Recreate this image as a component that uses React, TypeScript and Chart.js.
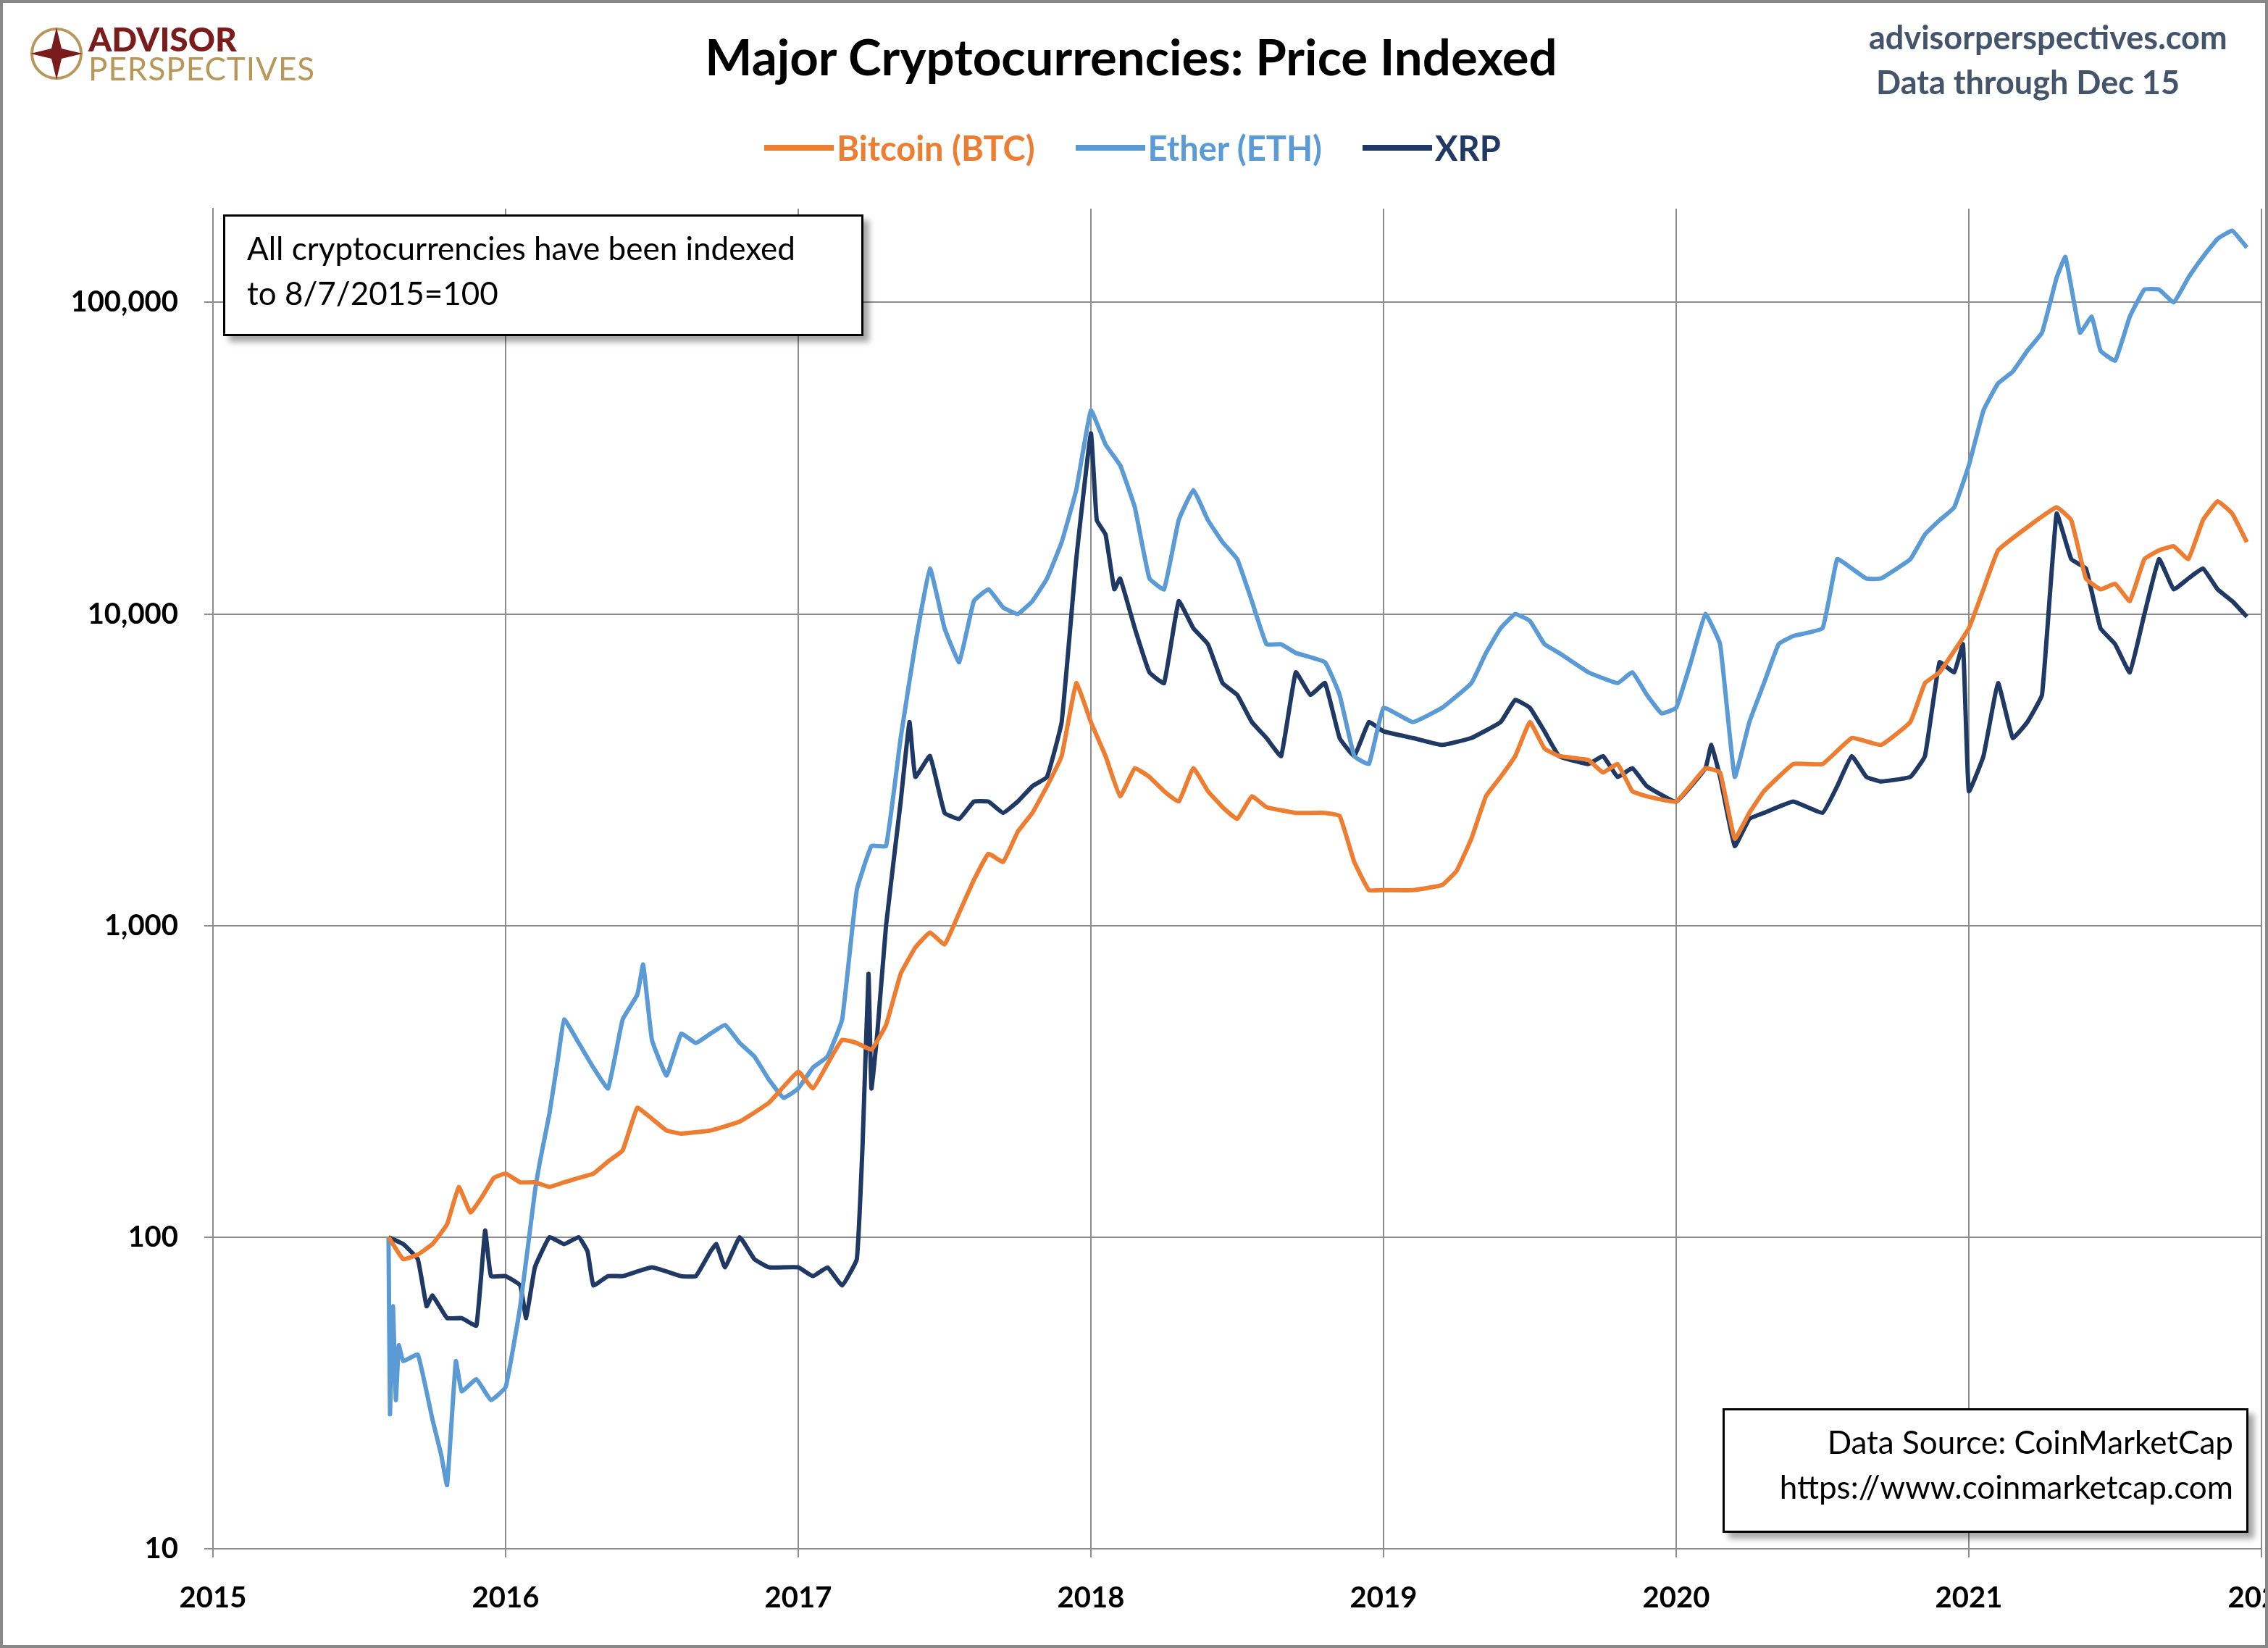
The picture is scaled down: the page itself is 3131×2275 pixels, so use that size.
import React, { useEffect, useRef } from "react";
import { Chart, registerables } from "chart.js";
Chart.register(...registerables);

const btcX = [2015.6,2015.65,2015.7,2015.75,2015.8,2015.84,2015.88,2015.92,2015.96,2016.0,2016.05,2016.1,2016.15,2016.2,2016.25,2016.3,2016.35,2016.4,2016.45,2016.5,2016.55,2016.6,2016.7,2016.8,2016.9,2017.0,2017.05,2017.1,2017.15,2017.2,2017.25,2017.3,2017.35,2017.4,2017.45,2017.5,2017.55,2017.6,2017.65,2017.7,2017.75,2017.8,2017.85,2017.9,2017.95,2018.0,2018.05,2018.1,2018.15,2018.2,2018.25,2018.3,2018.35,2018.4,2018.45,2018.5,2018.55,2018.6,2018.7,2018.8,2018.85,2018.9,2018.95,2019.0,2019.1,2019.2,2019.25,2019.3,2019.35,2019.4,2019.45,2019.5,2019.55,2019.6,2019.7,2019.75,2019.8,2019.85,2019.9,2020.0,2020.1,2020.15,2020.2,2020.25,2020.3,2020.4,2020.5,2020.6,2020.7,2020.8,2020.85,2020.9,2021.0,2021.05,2021.1,2021.2,2021.3,2021.35,2021.4,2021.45,2021.5,2021.55,2021.6,2021.65,2021.7,2021.75,2021.8,2021.85,2021.9,2021.95];
const btcY = [100,85,88,95,110,145,120,135,155,160,150,150,145,150,155,160,175,190,260,240,220,215,220,235,270,340,300,360,430,420,400,480,700,850,950,870,1100,1400,1700,1600,2000,2300,2800,3500,6000,4500,3500,2600,3200,3000,2700,2500,3200,2700,2400,2200,2600,2400,2300,2300,2250,1600,1300,1300,1300,1350,1500,1900,2600,3000,3500,4500,3700,3500,3400,3100,3300,2700,2600,2500,3200,3100,1900,2300,2700,3300,3300,4000,3800,4500,6000,6500,9000,12000,16000,19000,22000,20000,13000,12000,12500,11000,15000,16000,16500,15000,20000,23000,21000,17000];

const ethX = [2015.6,2015.605,2015.615,2015.625,2015.635,2015.65,2015.7,2015.75,2015.78,2015.8,2015.83,2015.85,2015.9,2015.95,2016.0,2016.05,2016.1,2016.12,2016.15,2016.18,2016.2,2016.25,2016.3,2016.35,2016.4,2016.45,2016.47,2016.5,2016.55,2016.6,2016.65,2016.7,2016.75,2016.8,2016.85,2016.9,2016.95,2017.0,2017.05,2017.1,2017.15,2017.2,2017.25,2017.3,2017.35,2017.4,2017.45,2017.5,2017.55,2017.6,2017.65,2017.7,2017.75,2017.8,2017.85,2017.9,2017.95,2018.0,2018.05,2018.1,2018.15,2018.2,2018.25,2018.3,2018.35,2018.4,2018.45,2018.5,2018.55,2018.6,2018.65,2018.7,2018.8,2018.85,2018.9,2018.95,2019.0,2019.1,2019.2,2019.3,2019.35,2019.4,2019.45,2019.5,2019.55,2019.6,2019.7,2019.8,2019.85,2019.9,2019.95,2020.0,2020.05,2020.1,2020.15,2020.2,2020.25,2020.3,2020.35,2020.4,2020.5,2020.55,2020.6,2020.65,2020.7,2020.8,2020.85,2020.9,2020.95,2021.0,2021.05,2021.1,2021.15,2021.2,2021.25,2021.3,2021.33,2021.38,2021.42,2021.45,2021.5,2021.55,2021.6,2021.65,2021.7,2021.75,2021.8,2021.85,2021.9,2021.95];
const ethY = [100,27,60,30,45,40,42,26,20,16,40,32,35,30,33,60,140,180,250,380,500,420,350,300,500,600,750,430,330,450,420,450,480,420,380,320,280,300,350,380,500,1300,1800,1800,4000,8000,14000,9000,7000,11000,12000,10500,10000,11000,13000,17000,25000,45000,35000,30000,22000,13000,12000,20000,25000,20000,17000,15000,11000,8000,8000,7500,7000,5500,3500,3300,5000,4500,5000,6000,7500,9000,10000,9500,8000,7500,6500,6000,6500,5500,4800,5000,7000,10000,8000,3000,4500,6000,8000,8500,9000,15000,14000,13000,13000,15000,18000,20000,22000,30000,45000,55000,60000,70000,80000,120000,140000,80000,90000,70000,65000,90000,110000,110000,100000,120000,140000,160000,170000,150000];

const xrpX = [2015.6,2015.65,2015.7,2015.73,2015.75,2015.8,2015.85,2015.9,2015.93,2015.95,2016.0,2016.05,2016.07,2016.1,2016.15,2016.2,2016.25,2016.28,2016.3,2016.35,2016.4,2016.5,2016.6,2016.65,2016.7,2016.72,2016.75,2016.8,2016.85,2016.9,2017.0,2017.05,2017.1,2017.15,2017.2,2017.22,2017.24,2017.25,2017.27,2017.3,2017.35,2017.38,2017.4,2017.45,2017.5,2017.55,2017.6,2017.65,2017.7,2017.75,2017.8,2017.85,2017.9,2017.95,2018.0,2018.02,2018.05,2018.08,2018.1,2018.15,2018.2,2018.25,2018.3,2018.35,2018.4,2018.45,2018.5,2018.55,2018.6,2018.65,2018.7,2018.75,2018.8,2018.85,2018.9,2018.95,2019.0,2019.1,2019.2,2019.3,2019.4,2019.45,2019.5,2019.55,2019.6,2019.7,2019.75,2019.8,2019.85,2019.9,2020.0,2020.1,2020.12,2020.15,2020.2,2020.25,2020.3,2020.4,2020.5,2020.55,2020.6,2020.65,2020.7,2020.8,2020.85,2020.9,2020.95,2020.98,2021.0,2021.05,2021.1,2021.15,2021.2,2021.25,2021.3,2021.35,2021.4,2021.45,2021.5,2021.55,2021.6,2021.65,2021.7,2021.75,2021.8,2021.85,2021.9,2021.95];
const xrpY = [100,95,85,60,65,55,55,52,105,75,75,70,55,80,100,95,100,90,70,75,75,80,75,75,90,95,80,100,85,80,80,75,80,70,85,200,700,300,450,1000,2500,4500,3000,3500,2300,2200,2500,2500,2300,2500,2800,3000,4500,15000,38000,20000,18000,12000,13000,9000,6500,6000,11000,9000,8000,6000,5500,4500,4000,3500,6500,5500,6000,4000,3500,4500,4200,4000,3800,4000,4500,5300,5000,4200,3500,3300,3500,3000,3200,2800,2500,3200,3800,3000,1800,2200,2300,2500,2300,2800,3500,3000,2900,3000,3500,7000,6500,8000,2700,3500,6000,4000,4500,5500,21000,15000,14000,9000,8000,6500,10000,15000,12000,13000,14000,12000,11000,9800];

const yearTicks = [2015, 2016, 2017, 2018, 2019, 2020, 2021, 2022];
const yTicks = [10, 100, 1000, 10000, 100000];
const yTickLabels = ["10", "100", "1,000", "10,000", "100,000"];

const FONT = "Lato, 'Open Sans', sans-serif";

const toPts = (xs: number[], ys: number[]) => xs.map((x, i) => ({ x, y: ys[i] }));

export default function App() {
  const ref = useRef<HTMLCanvasElement>(null);
  useEffect(() => {
    document.body.style.margin = "0";
    const labelPlugin = {
      id: "labels",
      afterDraw(chart: any) {
        const ctx = chart.ctx;
        const xs = chart.scales.x, ys = chart.scales.y;
        ctx.save();
        ctx.fillStyle = "#000";
        ctx.font = `bold 40px ${FONT}`;
        ctx.textAlign = "right";
        ctx.textBaseline = "middle";
        yTicks.forEach((v, i) => ctx.fillText(yTickLabels[i], 246, ys.getPixelForValue(v)));
        ctx.textAlign = "center";
        yearTicks.forEach((v) => ctx.fillText(String(v), xs.getPixelForValue(v), 2206));
        ctx.restore();
      },
    };
    const mk = (label: string, xs: number[], ys: number[], color: string) => ({
      label, data: toPts(xs, ys), borderColor: color, backgroundColor: color,
      borderWidth: 6, pointRadius: 0, tension: 0.1,
    });
    const chart = new Chart(ref.current!, {
      type: "line",
      data: {
        datasets: [
          mk("Bitcoin (BTC)", btcX, btcY, "#ED7D31"),
          mk("Ether (ETH)", ethX, ethY, "#5B9BD5"),
          mk("XRP", xrpX, xrpY, "#1F3864"),
        ],
      },
      options: {
        animation: false, responsive: false, devicePixelRatio: 1,
        layout: { padding: { left: 282, top: 288, right: 9, bottom: 125 } },
        plugins: { legend: { display: false }, tooltip: { enabled: false } },
        scales: {
          x: {
            type: "linear", min: 2015, max: 2022,
            afterBuildTicks: (s: any) => { s.ticks = yearTicks.map((v) => ({ value: v })); },
            ticks: { display: false },
            grid: { color: "#8c8c8c", lineWidth: 2, drawTicks: true, tickLength: 12 },
            border: { color: "#8c8c8c", width: 2 },
          },
          y: {
            type: "logarithmic", min: 10, max: 200000,
            afterBuildTicks: (s: any) => { s.ticks = yTicks.map((v) => ({ value: v })); },
            ticks: { display: false },
            grid: { color: "#8c8c8c", lineWidth: 2, tickLength: 12 },
            border: { color: "#8c8c8c", width: 2 },
          },
        },
      },
      plugins: [labelPlugin],
    });
    return () => chart.destroy();
  }, []);

  const box: React.CSSProperties = {
    position: "absolute", background: "#fff", border: "3px solid #000",
    boxShadow: "8px 8px 8px rgba(0,0,0,0.35)", fontFamily: FONT, fontSize: 44,
    color: "#000", boxSizing: "border-box", lineHeight: "62px",
  };
  const legendItem = (color: string, text: string) => (
    <span style={{ display: "inline-flex", alignItems: "center", margin: "0 28px", color }}>
      <span style={{ display: "inline-block", width: 96, height: 8, background: color, marginRight: 4 }} />
      {text}
    </span>
  );
  return (
    <div style={{ position: "relative", width: 3131, height: 2275, background: "#fff", overflow: "hidden" }}>
      <canvas ref={ref} width={3131} height={2275} style={{ width: 3131, height: 2275, display: "block" }} />
      <div style={{ position: "absolute", inset: 0, border: "4px solid #888", boxSizing: "border-box", pointerEvents: "none" }} />
      <div style={{ position: "absolute", left: 38, top: 34, display: "flex", alignItems: "center", fontFamily: FONT }}>
        <svg width="80" height="80" viewBox="0 0 80 80">
          <circle cx="40" cy="40" r="34" fill="none" stroke="#b8975a" strokeWidth="4" />
          <polygon points="40,4 47,33 76,40 47,47 40,76 33,47 4,40 33,33" fill="#7b1c1c" />
        </svg>
        <div style={{ marginLeft: 4, lineHeight: "40px" }}>
          <div style={{ color: "#7b1c1c", fontWeight: 900, fontSize: 46 }}>ADVISOR</div>
          <div style={{ color: "#b8975a", fontSize: 44, letterSpacing: 1 }}>PERSPECTIVES</div>
        </div>
      </div>
      <div style={{ position: "absolute", left: 0, width: 3131, top: 36, textAlign: "center", fontFamily: FONT, fontWeight: 700, fontSize: 69, color: "#000", transform: "translateX(-4px)" }}>
        Major Cryptocurrencies: Price Indexed
      </div>
      <div style={{ position: "absolute", left: 2580, top: 20, fontFamily: FONT, fontWeight: 700, fontSize: 45, color: "#44546a", lineHeight: "62px" }}>
        <div>advisorperspectives.com</div>
        <div style={{ marginLeft: 10 }}>Data through Dec 15</div>
      </div>
      <div style={{ position: "absolute", left: 0, width: 3131, top: 162, textAlign: "center", fontFamily: FONT, fontWeight: 700, fontSize: 47, transform: "translateX(-2px)" }}>
        {legendItem("#ED7D31", "Bitcoin (BTC)")}
        {legendItem("#5B9BD5", "Ether (ETH)")}
        {legendItem("#1F3864", "XRP")}
      </div>
      <div style={{ ...box, left: 308, top: 296, width: 884, height: 168, padding: "12px 30px" }}>
        All cryptocurrencies have been indexed<br />to 8/7/2015=100
      </div>
      <div style={{ ...box, left: 2378, top: 1944, width: 726, height: 172, padding: "12px 18px", textAlign: "right" }}>
        Data Source: CoinMarketCap<br />https://www.coinmarketcap.com
      </div>
    </div>
  );
}
